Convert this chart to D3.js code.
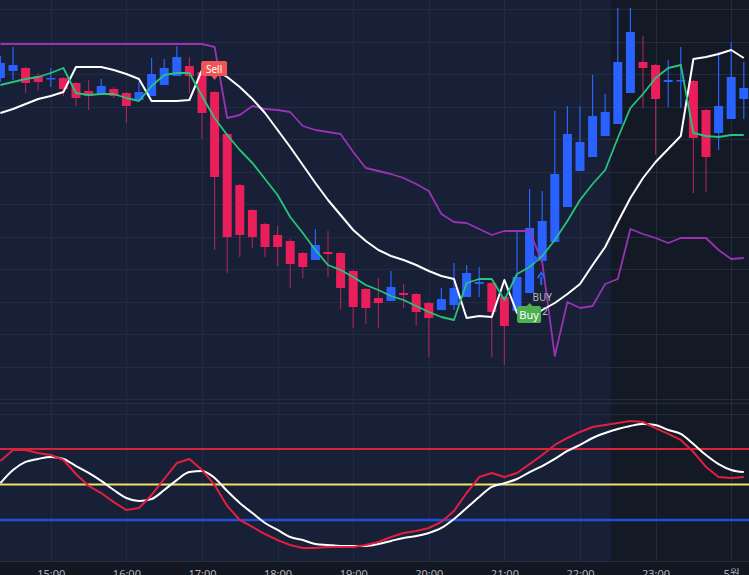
<!DOCTYPE html>
<html>
<head>
<meta charset="utf-8">
<script src="https://cdn.jsdelivr.net/npm/d3@7"></script>
<style>
  html, body { margin: 0; padding: 0; background: #131722; overflow: hidden; }
  svg { display: block; }
</style>
</head>
<body>
<div id="chart"></div>
<script>
// 10-minute candles, 14:20 -> 00:10
const times = [
  "14:20","14:30","14:40","14:50",
  "15:00","15:10","15:20","15:30","15:40","15:50",
  "16:00","16:10","16:20","16:30","16:40","16:50",
  "17:00","17:10","17:20","17:30","17:40","17:50",
  "18:00","18:10","18:20","18:30","18:40","18:50",
  "19:00","19:10","19:20","19:30","19:40","19:50",
  "20:00","20:10","20:20","20:30","20:40","20:50",
  "21:00","21:10","21:20","21:30","21:40","21:50",
  "22:00","22:10","22:20","22:30","22:40","22:50",
  "23:00","23:10","23:20","23:30","23:40","23:50",
  "00:00","00:10"
];

const open = [522,529,532,524,521,522,517,509,506,511, 507,500,504,515,524,534,528,508,466,415,
  390,376,365,359,347,340,348,347,329,311, 302,299,307,306,297,290,295,303,316,317,
  303,289,307,339,358,393,429,443,464,476, 507,538,535,518,519,519,490,467,481,501];
const high = [544,553,533,527,532,523,518,520,521,513, 508,518,542,541,554,543,530,509,467,416,
  391,377,374,361,348,371,369,348,330,312, 322,329,316,307,298,312,337,335,333,318,
  304,368,411,409,489,494,494,525,506,592, 592,564,536,540,553,520,491,548,558,538];
const low = [518,520,507,509,513,504,494,490,505,502, 477,500,504,515,524,507,461,350,327,343,
  352,343,334,312,322,340,323,291,272,276, 272,299,292,274,243,290,290,303,303,243,
  235,289,307,339,358,393,429,443,464,476, 507,492,445,493,492,407,408,450,481,481];
const close = [537,535,517,518,522,511,502,504,514,504, 494,508,526,532,543,524,487,423,363,365,
  363,353,353,336,333,355,346,312,293,292, 297,313,305,288,282,301,312,327,318,288,
  274,323,372,379,426,466,458,484,488,538, 568,532,501,520,520,462,443,494,523,512];

// overlays on price pane
const fastLine = [515,518,521,523,527,532,507,505,506,506, 502,499,514,525,527,527,504,482,465,450,
  437,421,405,383,367,350,335,330,323,315, 310,304,300,294,288,283,280,317,321,321,
  300,326,333,344,360,379,400,416,430,462, 492,506,522,532,535,467,464,463,465,465];
const slowLine = [487,491,496,501,504,508,533,533,533,530, 526,521,499,499,499,500,530,530,523,513,
  501,487,470,453,435,417,400,385,370,359, 350,344,340,335,329,324,321,282,284,283,
  320,287,282,290,297,306,316,335,353,378, 402,422,438,451,464,541,543,546,550,542];
const upperLine = [556,556,556,556,556,556,556,556,556,556, 556,556,556,556,556,556,556,553,482,485,
  494,491,490,488,474,470,468,466,448,432, 429,426,422,416,409,386,378,377,371,365,
  369,369,369,338,244,298,292,294,316,321, 371,366,362,357,362,362,362,350,341,342];

// oscillator pane
const oscFast = [63.2,69.4,69.4,67.7,66.6,63.8,55.9,49.2,45.2,40.1, 35.6,36.8,44.1,53.1,62.1,64.4,58.2,49.7,37.9,30.0,
  26.1,22.1,18.7,15.9,14.2,14.2,14.8,14.8,14.8,15.9, 17.6,20.4,22.7,23.8,25.5,28.9,35.1,45.2,54.2,56.5,
  54.2,56.5,61.5,66.6,72.3,76.2,79.6,82.4,83.5,84.6, 85.8,85.2,81.8,78.5,75.1,68.3,59.9,54.2,53.7,54.2];
const oscSlow = [50.8,58.2,62.7,64.4,65.5,64.4,60.4,56.5,52.0,46.9, 42.4,40.7,41.8,46.9,52.5,57.0,57.6,53.7,46.3,39.6,
  33.9,28.3,24.4,20.4,18.7,16.5,15.9,15.4,15.4,15.4, 16.5,18.2,19.9,21.0,22.7,25.5,30.6,36.8,43.0,48.6,
  50.8,53.1,57.0,60.4,64.4,68.9,72.3,76.2,79.0,81.3, 83.0,84.1,83.5,80.7,78.5,72.8,66.6,61.5,58.2,57.0];
const oscLevels = [70, 50, 30];
const oscLevelColors = ["#d9233a", "#f3e06a", "#1f4fdc"];

const priceGrid = [591, 558, 526, 493, 461, 428, 396, 363, 331, 298, 266, 233, 201];
const oscGrid = [90];

const tickTimes = ["15:00","16:00","17:00","18:00","19:00","20:00","21:00","22:00","23:00","00:00"];
const tickLabels = ["15:00","16:00","17:00","18:00","19:00","20:00","21:00","22:00","23:00","5월"];

const signals = [{time: "17:10", text: "Sell"}, {time: "21:20", text: "Buy"}];
const order = {time: "21:30", text: "BUY", qty: "+2"};
const shadeFrom = "22:30";

// layout
const W = 749, H = 575;
const plotLeft = 0.4, plotRight = 743.8;
const mainPane = {top: 0, bottom: 403};
const oscPane = {top: 404, bottom: 562};
const font = "'Noto Sans', 'Noto Sans CJK KR', sans-serif";

const svg = d3.select("#chart")
  .append("svg")
    .attr("width", W)
    .attr("height", H)
    .attr("viewBox", `0 0 ${W} ${H}`);

const x = d3.scalePoint().domain(times).range([plotLeft, plotRight]);
const step = x.step();
const y = d3.scaleLinear().domain([197, 600]).range([mainPane.bottom, mainPane.top]);
const yOsc = d3.scaleLinear().domain([30, 70]).range([520, 449]);

// backgrounds
const shadeX = x(shadeFrom) - step / 2;
svg.append("rect").attr("width", W).attr("height", H).attr("fill", "#131722");
svg.append("rect")
  .attr("x", 0).attr("y", 0)
  .attr("width", shadeX).attr("height", oscPane.bottom)
  .attr("fill", "#172037");
svg.append("rect")
  .attr("x", shadeX).attr("y", 0)
  .attr("width", W - shadeX).attr("height", oscPane.bottom)
  .attr("fill", "#141926");

// grid
const grid = svg.append("g").attr("stroke", "#232b3f").attr("stroke-width", 1);
grid.selectAll(".vgrid").data(tickTimes).join("line")
  .attr("class", "vgrid")
  .attr("x1", d => Math.round(x(d)) + 0.5).attr("x2", d => Math.round(x(d)) + 0.5)
  .attr("y1", 0).attr("y2", oscPane.bottom);
grid.selectAll(".hgrid").data(priceGrid).join("line")
  .attr("class", "hgrid")
  .attr("x1", 0).attr("x2", W)
  .attr("y1", d => Math.round(y(d)) + 0.5).attr("y2", d => Math.round(y(d)) + 0.5);
grid.selectAll(".ogrid").data(oscGrid).join("line")
  .attr("class", "ogrid")
  .attr("x1", 0).attr("x2", W)
  .attr("y1", d => Math.round(yOsc(d)) + 0.5).attr("y2", d => Math.round(yOsc(d)) + 0.5);

// pane borders
svg.append("line")
  .attr("x1", 0).attr("x2", W).attr("y1", mainPane.bottom + 0.5).attr("y2", mainPane.bottom + 0.5)
  .attr("stroke", "#262e44");
svg.append("line")
  .attr("x1", 0).attr("x2", W).attr("y1", oscPane.bottom - 0.5).attr("y2", oscPane.bottom - 0.5)
  .attr("stroke", "#262c3b");

// candles
const candles = times.map((t, i) => ({t, o: open[i], h: high[i], l: low[i], c: close[i]}));
const bull = "#2962ff", bear = "#e91e5a", bearWick = "#a0235a";
const bodyW = 9;

const cg = svg.append("g");
cg.selectAll(".wick").data(candles).join("line")
  .attr("class", "wick")
  .attr("x1", d => x(d.t)).attr("x2", d => x(d.t))
  .attr("y1", d => y(d.h)).attr("y2", d => y(d.l))
  .attr("stroke", d => d.c >= d.o ? bull : bearWick)
  .attr("stroke-width", 1.2);
cg.selectAll(".body").data(candles).join("rect")
  .attr("class", "body")
  .attr("x", d => x(d.t) - bodyW / 2)
  .attr("width", bodyW)
  .attr("y", d => y(Math.max(d.o, d.c)))
  .attr("height", d => Math.max(1.5, Math.abs(y(d.o) - y(d.c))))
  .attr("fill", d => d.c >= d.o ? bull : bear);

// overlay lines
const priceLine = d3.line().x((d, i) => x(times[i])).y(d => y(d));
[[upperLine, "#9a32b4", 1.8], [slowLine, "#ffffff", 2], [fastLine, "#27c47e", 1.8]].forEach(([data, color, w]) => {
  svg.append("path")
    .datum(data)
    .attr("d", priceLine)
    .attr("fill", "none")
    .attr("stroke", color)
    .attr("stroke-width", w)
    .attr("stroke-linejoin", "round");
});

// oscillator levels and lines
svg.selectAll(".level").data(oscLevels).join("line")
  .attr("class", "level")
  .attr("x1", 0).attr("x2", W)
  .attr("y1", d => yOsc(d)).attr("y2", d => yOsc(d))
  .attr("stroke", (d, i) => oscLevelColors[i])
  .attr("stroke-width", (d, i) => i === 2 ? 2.5 : 2);

svg.append("path")
  .datum(oscSlow)
  .attr("d", d3.line().x((d, i) => x(times[i])).y(d => yOsc(d)).curve(d3.curveMonotoneX))
  .attr("fill", "none").attr("stroke", "#ffffff").attr("stroke-width", 2);
svg.append("path")
  .datum(oscFast)
  .attr("d", d3.line().x((d, i) => x(times[i])).y(d => yOsc(d)))
  .attr("fill", "none").attr("stroke", "#e21f3f").attr("stroke-width", 2)
  .attr("stroke-linejoin", "round");

// order marker
const oi = times.indexOf(order.time);
const ox = x(order.time), oy = y(low[oi]);
svg.append("path")
  .attr("d", `M${ox - 8},${oy - 6}L${ox - 3},${oy - 2}L${ox - 8},${oy + 2}Z`)
  .attr("fill", bull);
svg.append("path")
  .attr("d", `M${ox - 1},${oy + 24}L${ox - 1},${oy + 16}M${ox - 4.5},${oy + 17}L${ox - 1},${oy + 12}L${ox + 2.5},${oy + 17}`)
  .attr("fill", "none").attr("stroke", bull).attr("stroke-width", 2);
svg.append("text")
  .attr("x", ox).attr("y", oy + 40)
  .attr("text-anchor", "middle")
  .style("font-family", font).style("font-size", "10px")
  .attr("fill", "#b8bcc6")
  .text(order.text);
svg.append("text")
  .attr("x", ox).attr("y", oy + 54)
  .attr("text-anchor", "middle")
  .style("font-family", font).style("font-size", "10px")
  .attr("fill", "#b8bcc6")
  .text(order.qty);

// signal labels
signals.forEach(s => {
  const i = times.indexOf(s.time);
  const cx = x(s.time);
  const isSell = s.text === "Sell";
  const g = svg.append("g");
  if (isSell) {
    const tip = y(high[i]) - 11;
    g.append("rect").attr("x", cx - 13.5).attr("y", tip - 19).attr("width", 26).attr("height", 15).attr("rx", 2)
      .attr("fill", "#f05454");
    g.append("path").attr("d", `M${cx - 3.5},${tip - 4.5}L${cx},${tip}L${cx + 3.5},${tip - 4.5}Z`).attr("fill", "#f05454");
    g.append("text").attr("x", cx - 0.5).attr("y", tip - 7.5).attr("text-anchor", "middle")
      .style("font-family", font).style("font-size", "10px").attr("fill", "#ffffff").text(s.text);
  } else {
    const tip = y(low[i]) + 10;
    g.append("rect").attr("x", cx - 12.5).attr("y", tip + 3).attr("width", 24).attr("height", 17).attr("rx", 2)
      .attr("fill", "#4caf50");
    g.append("path").attr("d", `M${cx - 3.5},${tip + 3.5}L${cx},${tip}L${cx + 3.5},${tip + 3.5}Z`).attr("fill", "#4caf50");
    g.append("text").attr("x", cx - 0.5).attr("y", tip + 15.5).attr("text-anchor", "middle")
      .style("font-family", font).style("font-size", "11px").attr("fill", "#ffffff").text(s.text);
  }
});

// time axis
const axis = svg.append("g")
  .attr("transform", `translate(0, ${oscPane.bottom})`)
  .call(d3.axisBottom(x).tickValues(tickTimes).tickFormat((d, i) => tickLabels[i]).tickSize(0));
axis.select(".domain").remove();
axis.selectAll("text")
  .attr("y", 8)
  .style("font-family", font)
  .style("font-size", "11px")
  .attr("fill", "#b2b5be");
</script>
</body>
</html>
